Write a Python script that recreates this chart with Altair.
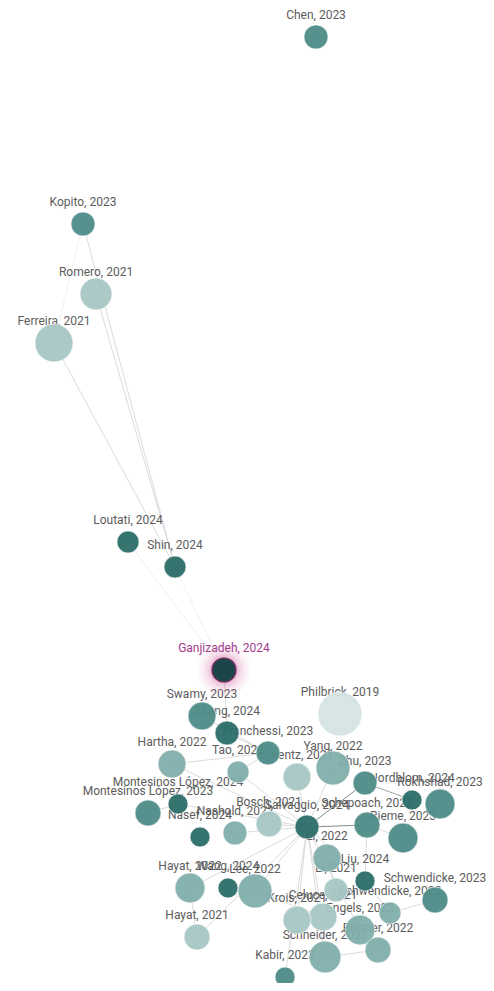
import altair as alt
import pandas as pd

# ---- nodes (position, radius ~ citations, year -> colour)
labels = [
    "Chen, 2023", "Kopito, 2023", "Romero, 2021", "Ferreira, 2021", "Loutati, 2024",
    "Shin, 2024", "Ganjizadeh, 2024", "Swamy, 2023", "Philbrick, 2019", "Zhang, 2024",
    "Franchessi, 2023", "Hartha, 2022", "Tao, 2022", "Lorentz, 2021", "Yang, 2022",
    "Zhu, 2023", "Nordblom, 2024", "Rokhshad, 2023", "Montesinos López, 2024",
    "Montesinos López, 2023", "Nasef, 2024", "Nashold, 2022", "Bosch, 2021",
    "Salvaggio, 2024", "Schepoach, 2023", "Rieme, 2023", "Li, 2022", "Liu, 2024",
    "Li, 2021", "Hayat, 2022", "Wang, 2024", "Lee, 2022", "Hayat, 2021",
    "Celuce, 2021", "Krois, 2021", "Engels, 2022", "Schwendicke, 2022",
    "Schwendicke, 2023", "Büttner, 2022", "Schneider, 2022", "Kabir, 2023",
]
node_x = [316, 83, 96, 54, 128, 175, 224, 202, 340, 227,
          268, 172, 238, 297, 333, 365, 412, 440, 178, 148,
          200, 235, 269, 307, 367, 403, 327, 365, 336, 190,
          228, 255, 197, 323, 297, 360, 390, 435, 378, 325, 285]
node_y = [37, 224, 294, 343, 542, 567, 670, 716, 714, 733,
          753, 764, 772, 777, 768, 783, 800, 804, 804, 813,
          837, 833, 824, 827, 825, 838, 858, 881, 890, 888,
          888, 891, 937, 917, 920, 930, 913, 900, 950, 957, 977]
node_r = [12, 12, 16, 19, 11, 11, 12, 14, 22, 12,
          12, 14, 11, 14, 17, 12, 10, 15, 10, 13,
          10, 12, 13, 12, 13, 15, 14, 10, 12, 15,
          10, 17, 13, 14, 14, 15, 11, 13, 13, 16, 10]
years = [int(s[-4:]) for s in labels]

# ---- edges (index pairs into the node list) and their weight (0 = faint)
edge_src = [1, 2, 3, 1, 5, 4, 6, 6, 9, 11, 23, 23, 23, 23, 23, 23, 23, 23, 23,
            23, 23, 23, 23, 23, 23, 23, 23, 23, 15, 24, 24, 27, 36, 38, 35,
            29, 19, 7, 10, 26, 31]
edge_dst = [5, 5, 5, 3, 6, 6, 7, 9, 10, 10, 11, 12, 18, 21, 22, 29, 31, 32, 40,
            39, 34, 33, 35, 27, 15, 24, 14, 13, 16, 25, 27, 36, 37, 39, 38,
            32, 18, 10, 12, 28, 33]
edge_w = [1, 1, 1, 0, 0, 0, 0, 1, 1, 1, 1, 1, 1, 1, 1, 1, 1, 1, 1,
          1, 1, 1, 1, 1, 3, 3, 1, 1, 2, 1, 1, 1, 1, 1, 1,
          1, 1, 1, 1, 1, 1]

nodes = pd.DataFrame({"label": labels, "x": node_x, "y": node_y,
                      "r": node_r, "year": years})
nodes["size"] = (2 * nodes["r"]) ** 2
main = nodes[nodes["label"] != "Ganjizadeh, 2024"]
origin = nodes[nodes["label"] == "Ganjizadeh, 2024"]

edges = pd.DataFrame({
    "x": [node_x[i] for i in edge_src], "y": [node_y[i] for i in edge_src],
    "x2": [node_x[j] for j in edge_dst], "y2": [node_y[j] for j in edge_dst],
    "w": edge_w,
})

W, H = 478, 975
xs = alt.Scale(domain=[8, 8 + W], nice=False, zero=False)
ys = alt.Scale(domain=[8, 8 + H], nice=False, zero=False, reverse=True)
X = alt.X("x:Q", scale=xs, axis=None)
Y = alt.Y("y:Q", scale=ys, axis=None)

edge_layer = alt.Chart(edges).mark_rule().encode(
    x=X, y=Y, x2="x2:Q", y2="y2:Q",
    strokeWidth=alt.StrokeWidth("w:O", scale=alt.Scale(domain=[0, 1, 2, 3], range=[0.8, 0.9, 1.4, 1.8]), legend=None),
    stroke=alt.Stroke("w:O", scale=alt.Scale(domain=[0, 1, 2, 3], range=["#ececec", "#d4d4d4", "#8c9998", "#6f7f7e"]), legend=None),
)

FONT = 12
label_layer = alt.Chart(main).mark_text(
    dy=-22, font="Roboto", fontSize=FONT, color="#5c5c5c"
).encode(x=X, y=Y, text="label:N")

node_layer = alt.Chart(main).mark_circle(opacity=0.95, stroke="#ffffff", strokeWidth=0.6).encode(
    x=X, y=Y,
    size=alt.Size("size:Q", scale=None),
    fill=alt.Fill("year:O", scale=alt.Scale(
        domain=[2019, 2020, 2021, 2022, 2023, 2024],
        range=["#d5e4e3", "#bdd5d3", "#a7c7c5", "#80aeab", "#4f8c88", "#2c6d69"]),
        legend=None),
)

glow_layers = []
for rad, op in [(27, 0.04), (24, 0.05), (21, 0.07), (18, 0.09), (15.5, 0.12), (13.5, 0.2)]:
    glow_layers.append(
        alt.Chart(origin).mark_circle(size=(2 * rad) ** 2, color="#d45a9f", opacity=op)
        .encode(x=X, y=Y)
    )
origin_node = alt.Chart(origin).mark_circle(
    color="#1c4549", opacity=1, stroke="#7a2a62", strokeWidth=1.2
).encode(x=X, y=Y, size=alt.Size("size:Q", scale=None))
origin_label = alt.Chart(origin).mark_text(
    dy=-22, font="Roboto", fontSize=FONT, color="#a23d8c"
).encode(x=X, y=Y, text="label:N")

chart = alt.layer(
    edge_layer, label_layer, node_layer, *glow_layers, origin_node, origin_label
).resolve_scale(
    stroke="independent", fill="independent", strokeWidth="independent"
).properties(
    width=W, height=H, padding=0,
    autosize=alt.AutoSizeParams(type="none"),
    background="#ffffff",
).configure_view(stroke=None)

chart.save("out.html", embed_options={"renderer": "svg", "actions": False})
